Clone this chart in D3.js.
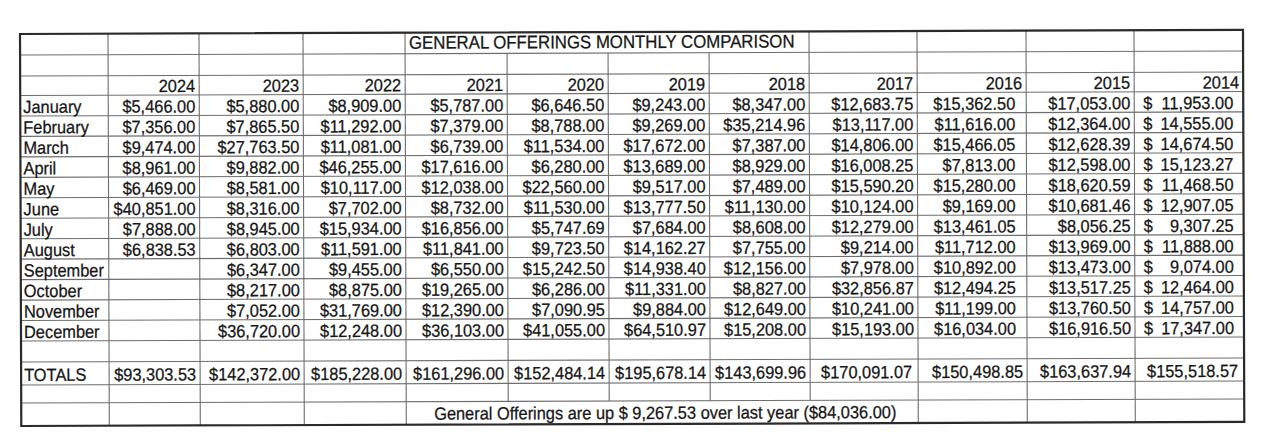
<!DOCTYPE html>
<html>
<head>
<meta charset="utf-8">
<script src="https://cdn.jsdelivr.net/npm/d3@7"></script>
<style>
  html, body { margin: 0; padding: 0; background: #fff; }
  svg text { font-family: "Liberation Sans", Arial, sans-serif; fill: #161616; stroke: #161616; stroke-width: 0.25px; }
</style>
</head>
<body>
<div id="sheet"></div>
<script>
// values
var years = [2024, 2023, 2022, 2021, 2020, 2019, 2018, 2017, 2016, 2015, 2014];
var months = ["January", "February", "March", "April", "May", "June", "July",
              "August", "September", "October", "November", "December"];

var offerings2024 = [5466.00, 7356.00, 9474.00, 8961.00, 6469.00, 40851.00, 7888.00, 6838.53, null, null, null, null];
var offerings2023 = [5880.00, 7865.50, 27763.50, 9882.00, 8581.00, 8316.00, 8945.00, 6803.00, 6347.00, 8217.00, 7052.00, 36720.00];
var offerings2022 = [8909.00, 11292.00, 11081.00, 46255.00, 10117.00, 7702.00, 15934.00, 11591.00, 9455.00, 8875.00, 31769.00, 12248.00];
var offerings2021 = [5787.00, 7379.00, 6739.00, 17616.00, 12038.00, 8732.00, 16856.00, 11841.00, 6550.00, 19265.00, 12390.00, 36103.00];
var offerings2020 = [6646.50, 8788.00, 11534.00, 6280.00, 22560.00, 11530.00, 5747.69, 9723.50, 15242.50, 6286.00, 7090.95, 41055.00];
var offerings2019 = [9243.00, 9269.00, 17672.00, 13689.00, 9517.00, 13777.50, 7684.00, 14162.27, 14938.40, 11331.00, 9884.00, 64510.97];
var offerings2018 = [8347.00, 35214.96, 7387.00, 8929.00, 7489.00, 11130.00, 8608.00, 7755.00, 12156.00, 8827.00, 12649.00, 15208.00];
var offerings2017 = [12683.75, 13117.00, 14806.00, 16008.25, 15590.20, 10124.00, 12279.00, 9214.00, 7978.00, 32856.87, 10241.00, 15193.00];
var offerings2016 = [15362.50, 11616.00, 15466.05, 7813.00, 15280.00, 9169.00, 13461.05, 11712.00, 10892.00, 12494.25, 11199.00, 16034.00];
var offerings2015 = [17053.00, 12364.00, 12628.39, 12598.00, 18620.59, 10681.46, 8056.25, 13969.00, 13473.00, 13517.25, 13760.50, 16916.50];
var offerings2014 = [11953.00, 14555.00, 14674.50, 15123.27, 11468.50, 12907.05, 9307.25, 11888.00, 9074.00, 12464.00, 14757.00, 17347.00];

var totals = [93303.53, 142372.00, 185228.00, 161296.00, 152484.14, 195678.14, 143699.96, 170091.07, 150498.85, 163637.94, 155518.57];
var priorYearToDate = 84036.00;

var title = "GENERAL OFFERINGS MONTHLY COMPARISON";

/**
 * Spreadsheet style table of the monthly offerings
 */
function OfferingsTable(){
    var self = this;
    self.init();
};

OfferingsTable.prototype.init = function(){
    var self = this;
    self.width = 1267;
    self.height = 445;

    // cell borders of the sheet (column edges left to right, row edges top to bottom)
    var colEdges = [20, 108, 199, 303, 405, 507, 608, 709, 809, 917, 1026, 1134, 1243];
    var monthTop = 95.5, monthBottom = 341;
    var step = (monthBottom - monthTop) / months.length;
    var rowEdges = [34, 55, 76].concat(d3.range(months.length + 1).map(function(i){ return monthTop + i*step; }))
        .concat([362, 385, 403, 426]);

    self.x = d3.scaleLinear().domain(d3.range(colEdges.length)).range(colEdges);
    self.y = d3.scaleLinear().domain(d3.range(rowEdges.length)).range(rowEdges);
    self.nCols = colEdges.length - 1;
    self.nRows = rowEdges.length - 1;

    self.svg = d3.select("#sheet").append("svg")
        .attr("width", self.width)
        .attr("height", self.height);

    self.svg.append("rect").attr("width", self.width).attr("height", self.height).attr("fill", "#fff");

    // the scan sits a little crooked
    self.g = self.svg.append("g")
        .attr("transform", "rotate(-0.19," + colEdges[0] + "," + rowEdges[0] + ")");
};

/**
 * Places text at (x, y) and stretches it a bit taller, like the printed glyphs
 */
OfferingsTable.prototype.place = function(sel, fx, fy){
    sel.attr("transform", function(d, i){
        return "translate(" + fx(d, i) + "," + fy(d, i) + ") scale(1,1.08)";
    });
    return sel;
};

OfferingsTable.prototype.update = function(){
    var self = this;
    var x = self.x, y = self.y, g = self.g;
    var money = d3.format("$,.2f");
    var plain = d3.format(",.2f");

    var TITLE_ROW = 0, YEAR_ROW = 2, FIRST_MONTH = 3, TOTAL_ROW = 16, NOTE_ROW = 18;

    //horizontal grid lines
    g.append("g").selectAll("line")
        .data(d3.range(1, self.nRows))
        .join("line")
        .attr("x1", x(0)).attr("x2", x(self.nCols))
        .attr("y1", function(r){ return y(r); })
        .attr("y2", function(r){ return y(r); })
        .attr("stroke", "#6e6e6e").attr("stroke-width", 1.1);

    //vertical segments, skipping merged cells (title and note)
    var segs = [];
    d3.range(self.nRows).forEach(function(r){
        d3.range(1, self.nCols).forEach(function(c){
            if (r == TITLE_ROW && c >= 5 && c <= 7) return;
            if (r == NOTE_ROW && c >= 5 && c <= 8) return;
            segs.push({r: r, c: c});
        });
    });
    g.append("g").selectAll("line")
        .data(segs)
        .join("line")
        .attr("x1", function(d){ return x(d.c); })
        .attr("x2", function(d){ return x(d.c); })
        .attr("y1", function(d){ return y(d.r); })
        .attr("y2", function(d){ return y(d.r + 1); })
        .attr("stroke", "#6e6e6e").attr("stroke-width", 1.1);

    //outer border
    g.append("rect")
        .attr("x", x(0)).attr("y", y(0))
        .attr("width", x(self.nCols) - x(0))
        .attr("height", y(self.nRows) - y(0))
        .attr("fill", "none")
        .attr("stroke", "#2a2a2a").attr("stroke-width", 2.2);

    var fs = "16.4px";

    //title
    self.place(g.append("text").datum(title), function(){ return x(4) + 4; }, function(){ return y(TITLE_ROW + 1) - 5; })
        .style("font-size", "16.8px")
        .text(title);

    //year headers
    self.place(g.append("g").selectAll("text").data(years).join("text"),
            function(d, i){ return x(i + 2) - 4; },
            function(){ return y(YEAR_ROW + 1) - 3; })
        .style("font-size", fs)
        .style("text-anchor", "end")
        .text(function(d){ return d; });

    //month labels
    self.place(g.append("g").selectAll("text").data(months).join("text"),
            function(){ return x(0) + 3; },
            function(d, i){ return y(FIRST_MONTH + i + 1) - 3; })
        .style("font-size", fs)
        .text(function(d){ return d; });

    //monthly values, one column per year
    var series = [offerings2024, offerings2023, offerings2022, offerings2021, offerings2020,
                  offerings2019, offerings2018, offerings2017, offerings2016, offerings2015, offerings2014];
    var pad = [4, 4, 4, 4, 4, 4, 4, 4, 11, 4, 10];
    var cells = [];
    series.forEach(function(vals, ci){
        vals.forEach(function(v, mi){
            if (v != null) cells.push({col: ci + 1, row: FIRST_MONTH + mi, value: v});
        });
    });
    var last = years.length;  // 2014 column uses accounting format

    self.place(g.append("g").selectAll("text").data(cells).join("text"),
            function(d){ return x(d.col + 1) - pad[d.col - 1]; },
            function(d){ return y(d.row + 1) - 3; })
        .style("font-size", fs)
        .style("text-anchor", "end")
        .text(function(d){ return d.col == last ? plain(d.value) : money(d.value); });

    //dollar signs on the left of the accounting column
    self.place(g.append("g").selectAll("text").data(cells.filter(function(d){ return d.col == last; })).join("text"),
            function(d){ return x(d.col) + 9; },
            function(d){ return y(d.row + 1) - 3; })
        .style("font-size", fs)
        .text("$");

    //totals row
    self.place(g.append("text").datum("TOTALS"), function(){ return x(0) + 3; }, function(){ return y(TOTAL_ROW + 1) - 4; })
        .style("font-size", fs)
        .text("TOTALS");

    var totalPad = [4, 4, 4, 4, 4, 4, 4, 6, 4, 4, 6];
    self.place(g.append("g").selectAll("text").data(totals).join("text"),
            function(d, i){ return x(i + 2) - totalPad[i]; },
            function(){ return y(TOTAL_ROW + 1) - 4; })
        .style("font-size", fs)
        .style("text-anchor", "end")
        .text(function(d){ return money(d); });

    //note across the merged cell
    var diff = totals[0] - priorYearToDate;
    var note = "General Offerings are up $ " + plain(diff) + " over last year (" + money(priorYearToDate) + ")";
    self.place(g.append("text").datum(note), function(){ return (x(4) + x(9)) / 2 + 3; }, function(){ return y(NOTE_ROW + 1) - 5; })
        .style("font-size", fs)
        .style("text-anchor", "middle")
        .text(note);
};

var table = new OfferingsTable();
table.update();
</script>
</body>
</html>
